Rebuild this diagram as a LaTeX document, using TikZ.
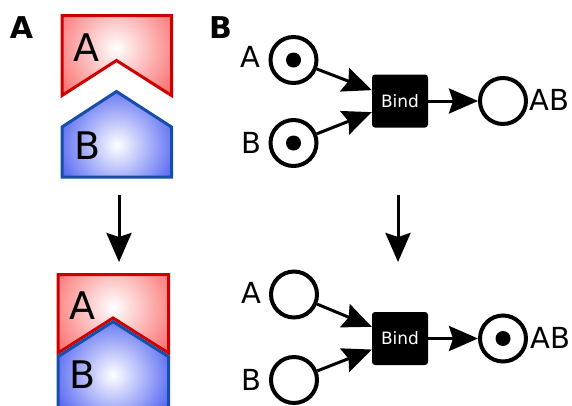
\documentclass[tikz,border=0pt]{standalone}
\usepackage{fontspec}
\setmainfont{DejaVu Sans}
\usetikzlibrary{arrows.meta}

\definecolor{redline}{RGB}{204,0,0}
\definecolor{redfill}{RGB}{250,108,108}
\definecolor{blueline}{RGB}{22,78,170}
\definecolor{bluefill}{RGB}{64,84,240}

\tikzset{
  panel/.style={font=\fontsize{30}{32}\selectfont\bfseries, inner sep=0pt},
  big/.style={font=\fontsize{38}{40}\selectfont, inner sep=0pt},
  lbl/.style={font=\fontsize{29}{31}\selectfont, inner sep=0pt},
  place/.style={circle, draw=black, line width=4pt, minimum size=46pt, inner sep=0pt, fill=white},
  trans/.style={rectangle, fill=black, rounded corners=3pt, minimum width=56pt,
                minimum height=53pt, inner sep=0pt, text=white,
                font=\fontsize{17}{19}\selectfont},
  arr/.style={line width=3pt, -{Stealth[length=29pt,width=25pt,inset=4pt]}},
  redpiece/.style={draw=redline, line width=3pt, miter limit=10},
  bluepiece/.style={draw=blueline, line width=3pt, miter limit=10},
}

% a shape shaded radially from a white highlight at a chosen point
\newcommand{\glossy}[4]{% #1 path, #2 highlight point, #3 outer colour, #4 stroke style
  \begin{scope}
    \clip #1;
    \shade[inner color=white, outer color=#3] #2 circle (70pt);
  \end{scope}
  \path[#4] #1;
}

\begin{document}
\begin{tikzpicture}[x=1pt, y=-1pt]
\useasboundingbox (0,0) rectangle (572,405);
\fill[white] (0,0) rectangle (572,405);

% ---------- panel A ----------
\node[panel] (labA) at (21.5,28) {A};

% separate pieces
\glossy{(62,15.5) -- (171.5,15.5) -- (171.5,95.5) -- (116.5,60.5) -- (62,95.5) -- cycle}{(116,48)}{redfill}{redpiece}
\glossy{(62,127) -- (116.5,91.5) -- (171.5,127) -- (171.5,177) -- (62,177) -- cycle}{(117,145)}{bluefill}{bluepiece}
\node[big] (sepA) at (86.5,47.5) {A};
\node[big] (sepB) at (87.5,146) {B};

% binding step
\coordinate (dl1) at (119,195);
\coordinate (dl2) at (119,262);
\draw[arr] (dl1) -- (dl2);

% bound pieces
\glossy{(58,274.5) -- (168.5,274.5) -- (168.5,353) -- (113,318) -- (58,353) -- cycle}{(113,307)}{redfill}{redpiece}
\glossy{(58,356.6) -- (113,321.6) -- (168.5,356.6) -- (168.5,415) -- (58,415) -- cycle}{(113,375)}{bluefill}{bluepiece}
\node[big] (jnA) at (82.5,306) {A};
\node[big] (jnB) at (83,375) {B};

% ---------- panel B ----------
\node[panel] (labB) at (220.5,27.5) {B};

% net before firing
\node[place] (pA1) at (293.5,60) {};
\node[place] (pB1) at (293.5,143) {};
\node[place] (pAB1) at (503,101) {};
\node[trans] (t1) at (400,101) {Bind};
\fill (pA1.center) circle (7.5pt);
\fill (pB1.center) circle (7.5pt);
\node[lbl] (lA1) at (250.5,57) {A};
\node[lbl] (lB1) at (251.5,142.5) {B};
\node[lbl, anchor=west] (lAB1) at (529,100) {AB};
\draw[arr] (pA1) -- (t1);
\draw[arr] (pB1) -- (t1);
\draw[arr] (t1) -- (pAB1);

% firing step
\coordinate (dr1) at (398,195);
\coordinate (dr2) at (398,262);
\draw[arr] (dr1) -- (dr2);

% net after firing
\node[place] (pA2) at (294,294.5) {};
\node[place] (pB2) at (294,380) {};
\node[place] (pAB2) at (503,338.5) {};
\node[trans] (t2) at (400,338.5) {Bind};
\fill (pAB2.center) circle (7.5pt);
\node[lbl] (lA2) at (251.5,293) {A};
\node[lbl] (lB2) at (251.5,380) {B};
\node[lbl, anchor=west] (lAB2) at (530,338) {AB};
\draw[arr] (pA2) -- (t2);
\draw[arr] (pB2) -- (t2);
\draw[arr] (t2) -- (pAB2);
\end{tikzpicture}
\end{document}
